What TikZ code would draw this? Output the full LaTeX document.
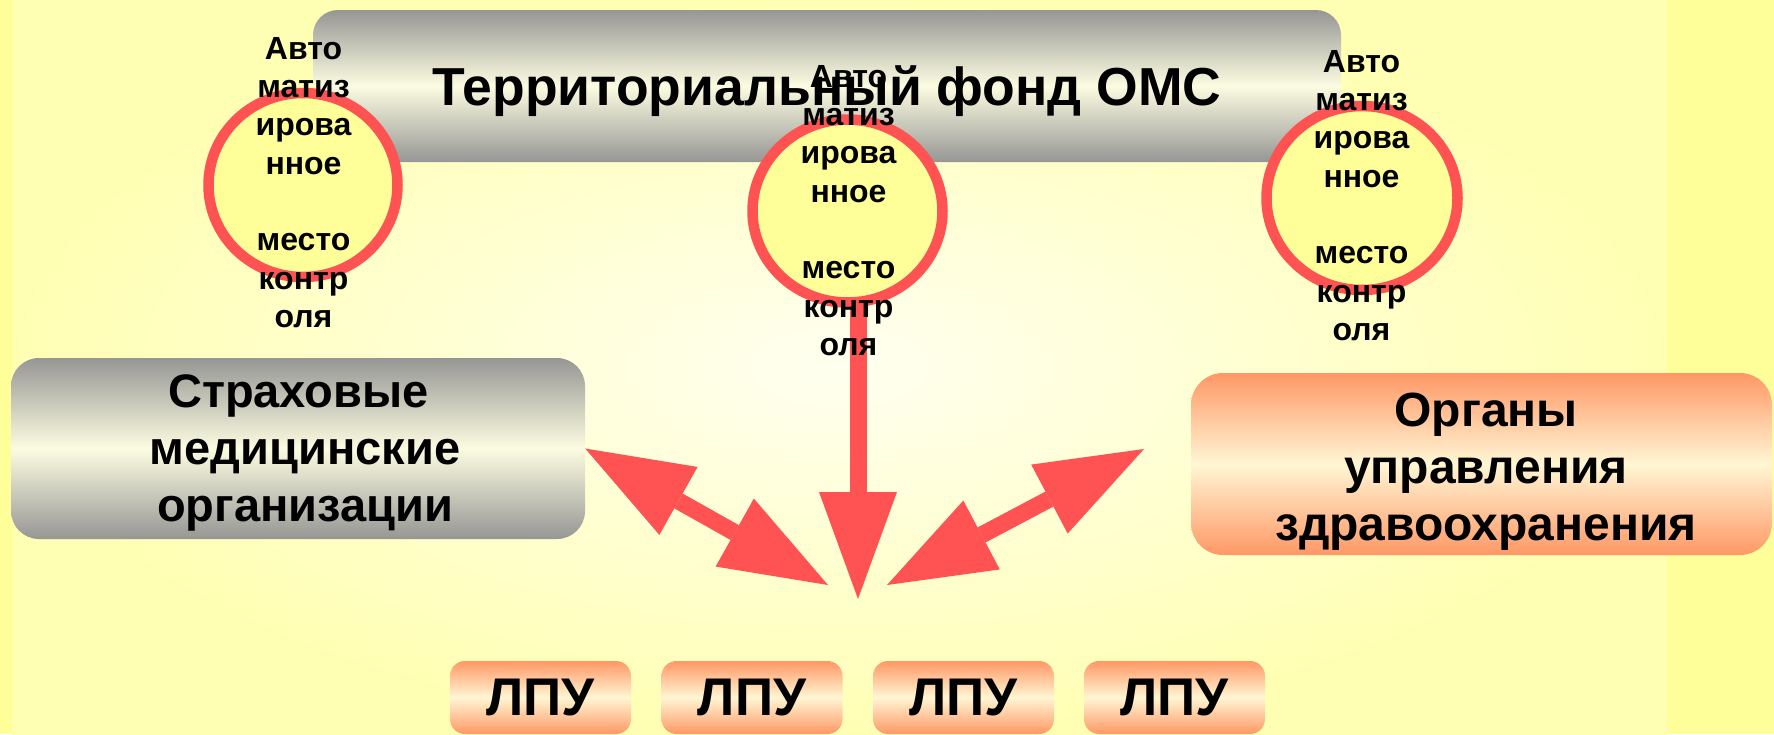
\documentclass[tikz,border=0pt]{standalone}
\usepackage{fontspec}
\setmainfont{Liberation Sans}
\usetikzlibrary{arrows.meta,shapes.geometric,calc}
\definecolor{bgin}{RGB}{255,255,240}
\definecolor{bgout}{RGB}{255,255,180}
\definecolor{strip}{RGB}{255,255,153}
\definecolor{grayedge}{RGB}{150,150,148}
\definecolor{graymid}{RGB}{252,252,226}
\definecolor{orangeedge}{RGB}{255,152,102}
\definecolor{orangemid}{RGB}{255,246,212}
\definecolor{redline}{RGB}{255,82,82}
\definecolor{circfill}{RGB}{255,255,153}
\tikzset{
  bigtip/.tip={Triangle[length=107pt,width=78pt,line width=0pt]},
  grayshape/.style={rectangle, inner sep=0pt, top color=grayedge, bottom color=grayedge, middle color=graymid},
  orangeshape/.style={rectangle, inner sep=0pt, top color=orangeedge, bottom color=orangeedge, middle color=orangemid},
  circ/.style={ellipse, draw=redline, line width=10.5pt, fill=circfill, inner sep=0pt},
  ctext/.style={font=\fontsize{32}{38.3}\selectfont\bfseries, align=center, inner sep=0pt},
  btext/.style={font=\fontsize{47}{57}\selectfont\bfseries, align=center, inner sep=0pt},
  lpu/.style={orangeshape, rounded corners=15pt, minimum width=181pt, minimum height=73pt, font=\fontsize{53}{60}\selectfont\bfseries},
  arr/.style={draw=redline, line width=17pt, -bigtip},
  darr/.style={draw=redline, line width=17pt, bigtip-bigtip}
}
\begin{document}
\begin{tikzpicture}[x=1pt,y=-1pt]
\useasboundingbox (0,0) rectangle (1774,734);
% background
\fill[strip] (0,0) rectangle (1774,734);
\shade[inner color=bgin, outer color=bgout] (12,0) rectangle (1667,734);
% boxes
\node[grayshape, rounded corners=25pt, minimum width=1028pt, minimum height=152pt] (tf) at (827,86) {};
\node[grayshape, rounded corners=28pt, minimum width=574pt, minimum height=181pt] (smo) at (298,448.5) {};
\node[orangeshape, rounded corners=32pt, minimum width=581pt, minimum height=182pt] (ouz) at (1481.5,464) {};
\node[lpu] (l1) at (540.5,697.5) {ЛПУ};
\node[lpu] (l2) at (752,697.5) {ЛПУ};
\node[lpu] (l3) at (963.5,697.5) {ЛПУ};
\node[lpu] (l4) at (1174.5,697.5) {ЛПУ};
% arrows
\coordinate (lb) at (828,585);
\coordinate (rt) at (1144,449);
\coordinate (rb) at (887,585);
\coordinate (mt) at (858,599);
\draw[darr] (smo.east) -- (lb);
\draw[darr] (rt) -- (rb);
% circles
\node[circ, minimum width=189pt, minimum height=184pt] (cl) at (303,185) {};
\node[circ, minimum width=190pt, minimum height=183pt] (cm) at (847.5,211) {};
\node[circ, minimum width=191pt, minimum height=184pt] (cr) at (1362,198) {};
\draw[arr] ($(cm.south -| mt)+(0,-8)$) -- (mt);
% texts
\node[font=\fontsize{53.5}{60}\selectfont\bfseries, anchor=base, inner sep=0pt] (tft) at (827,105) {Территориальный фонд ОМС};
\node[btext] (smot) at (305,453) {Страховые\kern13pt\\медицинские\\организации};
\node[btext, font=\fontsize{48}{57}\selectfont\bfseries] (ouzt) at (1486,471.5) {Органы\\управления\\здравоохранения};
\node[ctext] (clt) at (303.5,182.5) {Авто\\матиз\\ирова\\нное\\[38.3pt]место\\контр\\оля};
\node[ctext] (cmt) at (848.5,210.5) {Авто\\матиз\\ирова\\нное\\[38.3pt]место\\контр\\оля};
\node[ctext] (crt) at (1361.5,195.5) {Авто\\матиз\\ирова\\нное\\[38.3pt]место\\контр\\оля};
\end{tikzpicture}
\end{document}
